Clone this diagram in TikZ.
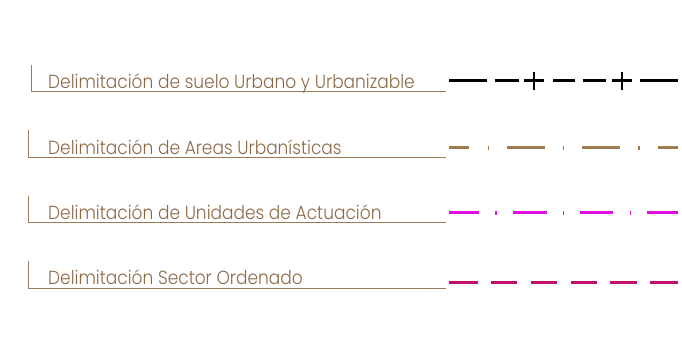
\documentclass[tikz,border=0pt]{standalone}
\usepackage{fontspec}
\setmainfont{Poppins Light}
\definecolor{txt}{HTML}{8C6A48}
\definecolor{rule}{HTML}{9C7A58}
\definecolor{areab}{HTML}{A07A50}
\definecolor{mag}{HTML}{E010E0}
\definecolor{crim}{HTML}{C0106A}
\newcommand{\lbltxt}[1]{\scalebox{0.895}[1]{#1}}
\begin{document}
\begin{tikzpicture}[x=1pt,y=-1pt,
  lbl/.style={anchor=base west, inner sep=0pt, text=txt, font=\fontsize{19}{19}\selectfont},
  frame/.style={draw=rule, line width=1pt},
  blk/.style={draw=black, line width=3pt},
  blkv/.style={draw=black, line width=2pt},
  brn/.style={draw=areab, line width=3.5pt},
  brnd/.style={draw=areab, line width=1.5pt},
  mg/.style={draw=mag, line width=3.5pt},
  mgd/.style={draw=mag, line width=1.5pt},
  cr/.style={draw=crim, line width=3.5pt}]
\useasboundingbox (0,0) rectangle (682,341);
% labels
\node[lbl] (t1) at (48,88) {\lbltxt{Delimitación de suelo Urbano y Urbanizable}};
\node[lbl] (t2) at (48,154) {\lbltxt{Delimitación de Areas Urbanísticas}};
\node[lbl] (t3) at (48,219) {\lbltxt{Delimitación de Unidades de Actuación}};
\node[lbl] (t4) at (48,284) {\lbltxt{Delimitación Sector Ordenado}};
% brackets
\draw[frame] (31,65) |- (446,91.5);
\draw[frame] (28.5,130) |- (446,157.5);
\draw[frame] (28.5,195.5) |- (446,222.5);
\draw[frame] (28.5,261) |- (446,288);
% row 1
\draw[blk] (449,80.7) -- (487,80.7);
\draw[blk] (495,80.7) -- (519,80.7);
\draw[blk] (524,80.7) -- (544,80.7);
\draw[blkv] (533.5,71.5) -- (533.5,90);
\draw[blk] (553,80.7) -- (575,80.7);
\draw[blk] (583,80.7) -- (606,80.7);
\draw[blk] (612,80.7) -- (632,80.7);
\draw[blkv] (621.7,71.5) -- (621.7,90);
\draw[blk] (640,80.7) -- (678,80.7);
% row 2
\draw[brn] (449.3,147.7) -- (469.3,147.7);
\draw[brnd] (488.3,145.7) -- (488.3,149.7);
\draw[brn] (506.7,147.7) -- (545,147.7);
\draw[brnd] (563.3,145.7) -- (563.3,149.7);
\draw[brn] (582.3,147.7) -- (620,147.7);
\draw[brnd] (639,145.7) -- (639,149.7);
\draw[brn] (658.3,147.7) -- (678.3,147.7);
% row 3
\draw[mg] (449.3,212.7) -- (479.3,212.7);
\draw[mgd] (496,210.7) -- (496,214.7);
\draw[mg] (513.3,212.7) -- (546.7,212.7);
\draw[mgd] (563.3,210.7) -- (563.3,214.7);
\draw[mg] (580,212.7) -- (613.3,212.7);
\draw[mgd] (630.7,210.7) -- (630.7,214.7);
\draw[mg] (647.3,212.7) -- (678.3,212.7);
% row 4
\draw[cr] (449.3,282.7) -- (477.7,282.7);
\draw[cr] (491,282.7) -- (517.3,282.7);
\draw[cr] (530.7,282.7) -- (556.7,282.7);
\draw[cr] (570.7,282.7) -- (596.7,282.7);
\draw[cr] (610,282.7) -- (636.7,282.7);
\draw[cr] (650,282.7) -- (678.3,282.7);
\end{tikzpicture}
\end{document}
